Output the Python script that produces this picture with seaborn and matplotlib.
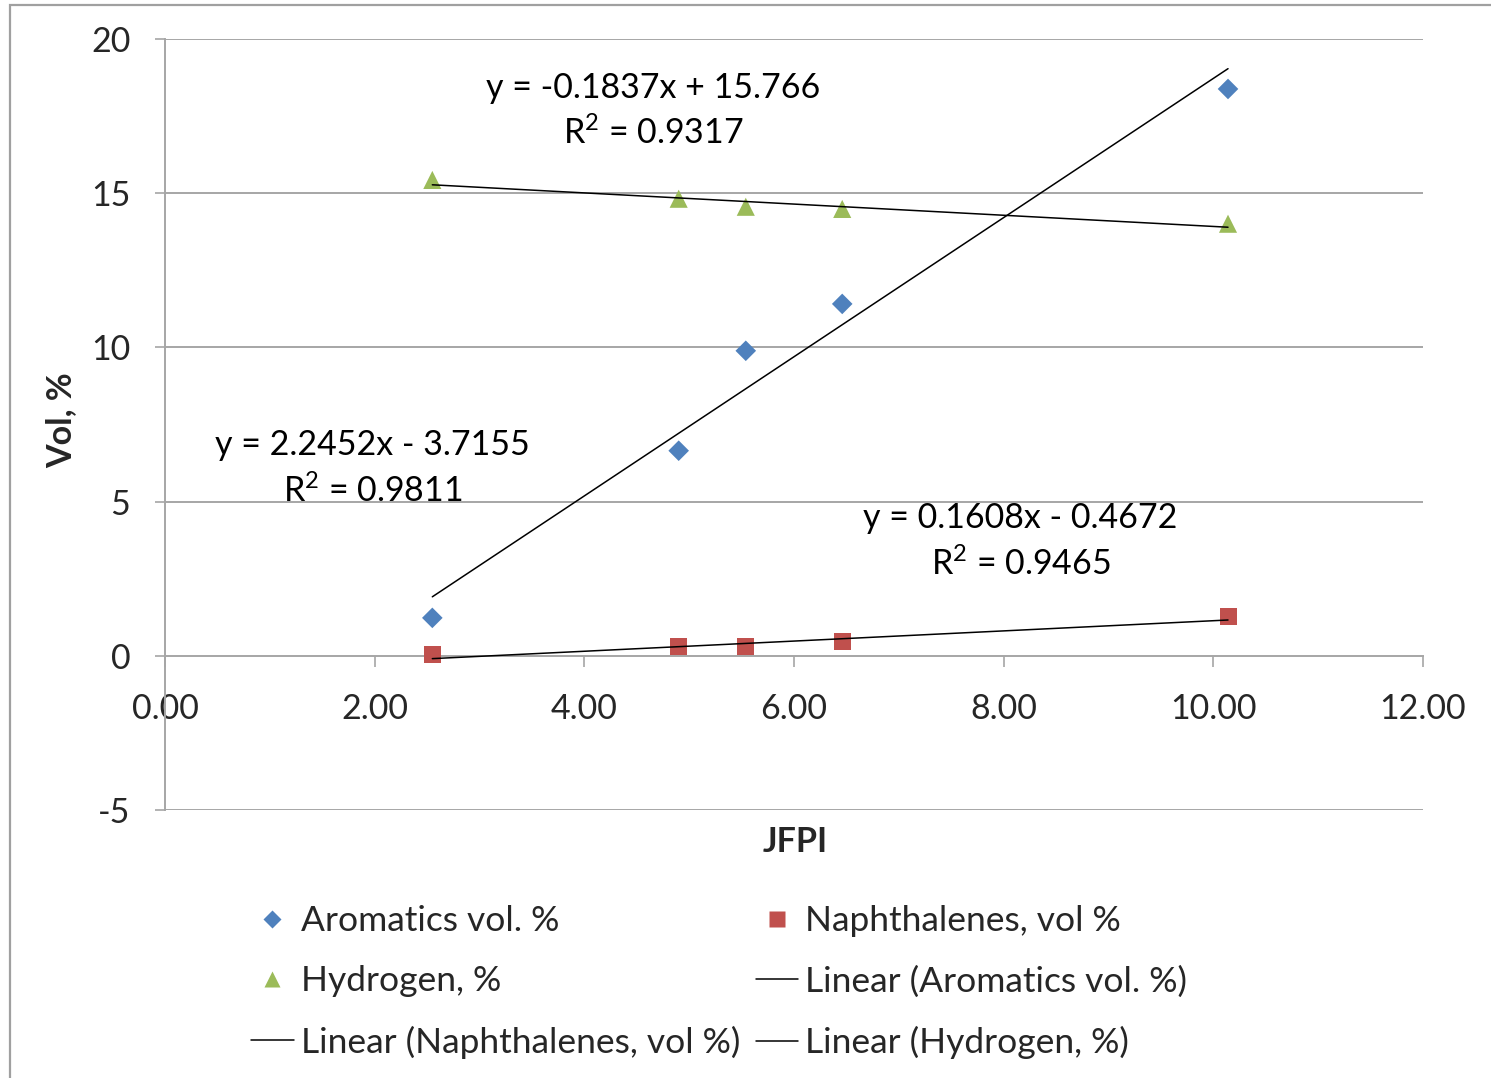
import matplotlib
matplotlib.use("Agg")
import matplotlib.pyplot as plt
import seaborn as sns
import pandas as pd
from matplotlib.lines import Line2D
from matplotlib.patches import Rectangle

# ---- data ----
jfpi = [2.55, 4.90, 5.54, 6.46, 10.14]
aromatics = [1.23, 6.65, 9.89, 11.41, 18.38]
naphthalenes = [0.03, 0.29, 0.29, 0.45, 1.26]
hydrogen = [15.43, 14.82, 14.56, 14.49, 14.01]

series_names = ["Aromatics vol. %", "Naphthalenes, vol %", "Hydrogen, %"]
series_colors = ["#4F81BD", "#C0504D", "#9BBB59"]
series_markers = ["D", "s", "^"]

eq_texts = [
    ("y = 2.2452x - 3.7155", "R$^2$ = 0.9811", 1.98, 6.84, 5.35),
    ("y = 0.1608x - 0.4672", "R$^2$ = 0.9465", 8.16, 4.47, 2.98),
    ("y = -0.1837x + 15.766", "R$^2$ = 0.9317", 4.66, 18.42, 16.96),
]

x_ticks = [0, 2, 4, 6, 8, 10, 12]
x_ticklabels = ["0.00", "2.00", "4.00", "6.00", "8.00", "10.00", "12.00"]
y_ticks = [-5, 0, 5, 10, 15, 20]

sns.set_theme(style="white")
plt.rcParams["font.family"] = ["Lato", "DejaVu Sans"]
plt.rcParams["axes.unicode_minus"] = False
plt.rcParams["mathtext.fontset"] = "custom"
plt.rcParams["mathtext.rm"] = "Lato"
plt.rcParams["mathtext.it"] = "Lato:italic"
plt.rcParams["mathtext.bf"] = "Lato:bold"
plt.rcParams["mathtext.default"] = "regular"

FS = 24.5
LFS = 25.5
W, H = 1491, 1078
fig = plt.figure(figsize=(W / 100, H / 100), dpi=100)
ax = fig.add_axes([165 / W, 1 - 810 / H, (1423 - 165) / W, (810 - 39) / H])

df = pd.DataFrame({"JFPI": jfpi, series_names[0]: aromatics,
                   series_names[1]: naphthalenes, series_names[2]: hydrogen})

grid_c = "#A6A6A6"
for yv in y_ticks:
    if yv != 0:
        ax.axhline(yv, color=grid_c, lw=1.4, zorder=0)

sizes = [110, 150, 170]
for name, c, m, s in zip(series_names, series_colors, series_markers, sizes):
    sns.scatterplot(data=df, x="JFPI", y=name, ax=ax, color=c, marker=m, s=s,
                    edgecolor="none", zorder=3, legend=False)
for name in series_names:
    sns.regplot(data=df, x="JFPI", y=name, ax=ax, scatter=False, ci=None,
                truncate=True, line_kws=dict(color="black", lw=1.1, zorder=4))

for eq, r2, xc, y1, y2 in eq_texts:
    ax.text(xc, y1, eq, ha="center", va="center", fontsize=FS, color="black")
    ax.text(xc, y2, r2, ha="center", va="center", fontsize=FS, color="black")

ax.set_xlim(0, 12)
ax.set_ylim(-5, 20)
ax.set_xticks(x_ticks)
ax.set_xticklabels(x_ticklabels)
ax.set_yticks(y_ticks)

for sp in ["top", "right"]:
    ax.spines[sp].set_visible(False)
ax.spines["bottom"].set_position(("data", 0))
ax.spines["bottom"].set_color(grid_c)
ax.spines["left"].set_color(grid_c)
ax.spines["bottom"].set_linewidth(1.4)
ax.spines["left"].set_linewidth(1.4)

ax.tick_params(axis="x", direction="out", length=8, width=1.2, color=grid_c,
               labelsize=FS, pad=19, bottom=True)
ax.tick_params(axis="y", direction="out", length=7, width=1.2, color=grid_c,
               labelsize=FS, pad=18, left=True)

ax.set_xlabel("JFPI", fontsize=FS, fontweight="bold")
ax.set_ylabel("Vol, %", fontsize=FS, fontweight="bold")
ax.xaxis.set_label_coords(0.5008, -0.021)
ax.yaxis.set_label_coords(-0.070, 0.506)

def mk(c, m, ms):
    return Line2D([], [], color=c, marker=m, markersize=ms, linestyle="none",
                  markeredgecolor="none")

def ln():
    return Line2D([], [], color="black", lw=1.1)

h_ar, h_na, h_hy = mk(series_colors[0], "D", 9), mk(series_colors[1], "s", 11), mk(series_colors[2], "^", 11)
handles = [h_ar, h_hy, ln(), h_na, ln(), ln()]
labels = [series_names[0], series_names[2], "Linear (" + series_names[1] + ")",
          series_names[1], "Linear (" + series_names[0] + ")", "Linear (" + series_names[2] + ")"]
fig.legend(handles, labels, ncol=2, loc="upper left",
           bbox_to_anchor=(251 / W, 1 - 905 / H), frameon=False,
           fontsize=LFS, handlelength=1.2, handletextpad=0.2,
           columnspacing=0.45, labelspacing=0.8, borderpad=0, borderaxespad=0)

fig.patches.append(Rectangle((10 / W, -0.05), 1.2, 1.05 - 5 / H, transform=fig.transFigure,
                             fill=False, edgecolor="#A0A0A0", lw=1.6))

fig.savefig("out.png", dpi=100)
